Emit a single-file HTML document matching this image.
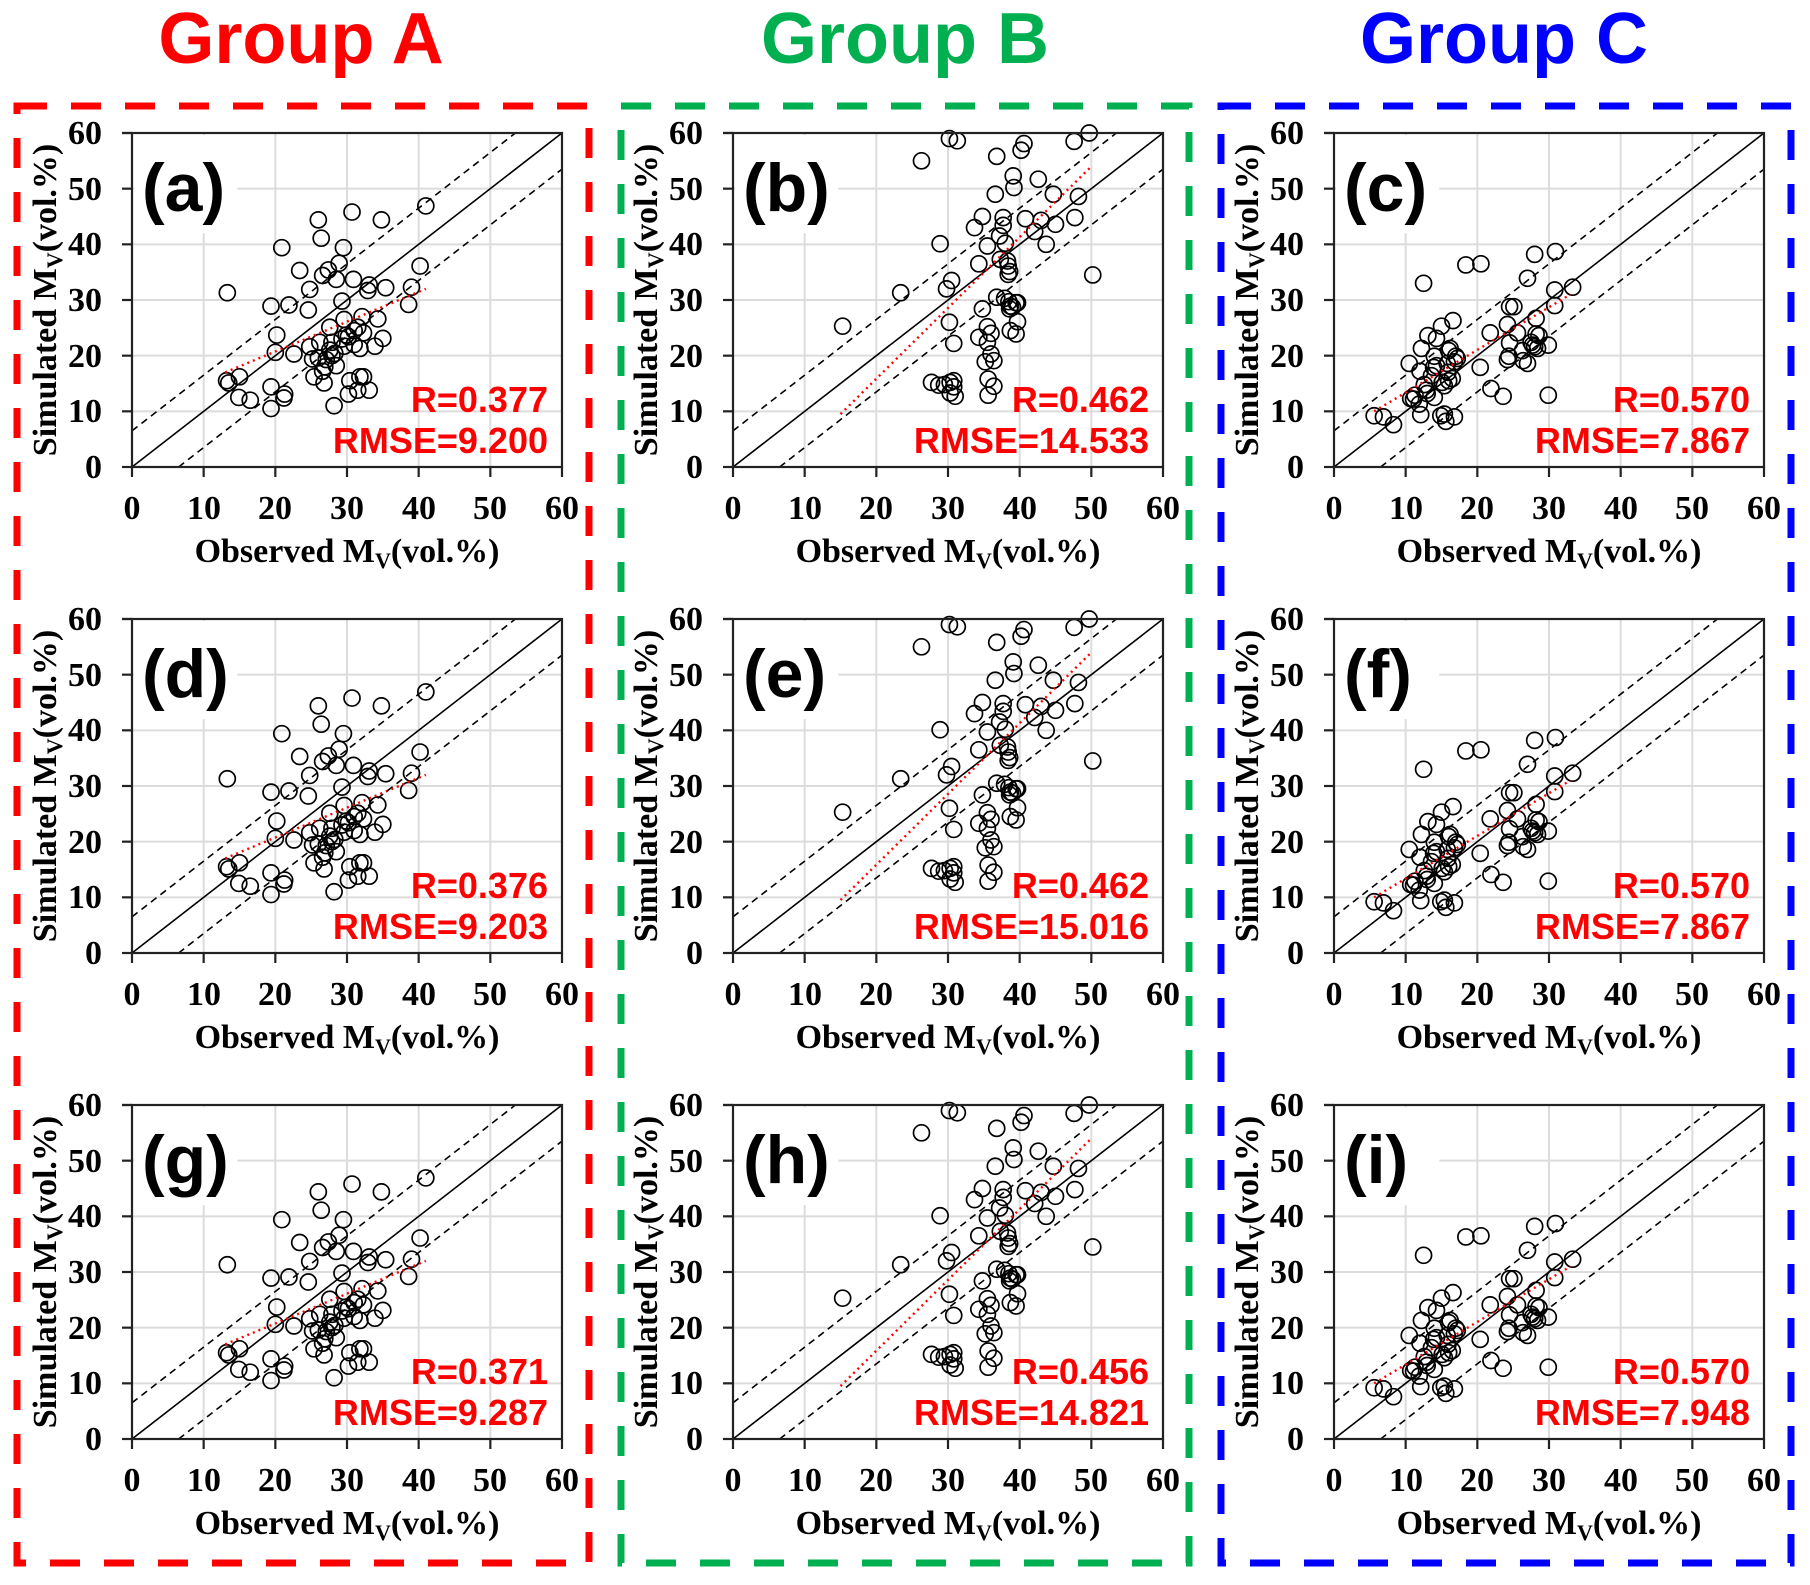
<!DOCTYPE html>
<html><head><meta charset="utf-8">
<style>
html,body{margin:0;padding:0;background:#fff;}
svg{display:block;}
.yt{font:bold 34px "Liberation Serif",serif;text-anchor:end;fill:#000;}
.xt{font:bold 34px "Liberation Serif",serif;text-anchor:middle;fill:#000;}
.at{font:bold 34px "Liberation Serif",serif;text-anchor:middle;fill:#000;}
.sub{font-size:22px;}
.lb{font:bold 68px "Liberation Sans",sans-serif;fill:#000;}
.rt{font:bold 36px "Liberation Sans",sans-serif;fill:#ff0000;text-anchor:end;}
.gt{font:bold 72px "Liberation Sans",sans-serif;text-anchor:middle;}
</style></head>
<body>
<svg id="root" width="1810" height="1585" viewBox="0 0 1810 1585" xmlns="http://www.w3.org/2000/svg">
<rect width="1810" height="1585" fill="#fff"/>
<text class="gt" x="301" y="63" fill="#ff0000">Group A</text>
<text class="gt" x="905" y="63" fill="#00b050">Group B</text>
<text class="gt" x="1504" y="63" fill="#0000ff">Group C</text>
<rect x="17" y="106" width="572" height="1457" fill="none" stroke="#ff0000" stroke-width="7" stroke-dasharray="30 24"/>
<rect x="621" y="106" width="568" height="1457" fill="none" stroke="#00b050" stroke-width="7" stroke-dasharray="30 24"/>
<rect x="1221" y="106" width="570" height="1457" fill="none" stroke="#0000ff" stroke-width="7" stroke-dasharray="30 24"/>

<g id="P0" transform="translate(132,133)"><g class="s"></g>
<text class="yt" x="-30" y="345">0</text><text class="yt" x="-30" y="289">10</text><text class="yt" x="-30" y="234">20</text><text class="yt" x="-30" y="178">30</text><text class="yt" x="-30" y="122">40</text><text class="yt" x="-30" y="67">50</text><text class="yt" x="-30" y="11">60</text>
<text class="xt" x="0" y="386">0</text><text class="xt" x="72" y="386">10</text><text class="xt" x="143" y="386">20</text><text class="xt" x="215" y="386">30</text><text class="xt" x="287" y="386">40</text><text class="xt" x="358" y="386">50</text><text class="xt" x="430" y="386">60</text>
<text class="at" x="215" y="429">Observed M<tspan class="sub" dy="6">V</tspan><tspan dy="-6">(vol.%)</tspan></text>
<text class="at" transform="translate(-76,167) rotate(-90)">Simulated M<tspan class="sub" dy="6">V</tspan><tspan dy="-6">(vol.%)</tspan></text>
<text class="lb" x="10" y="78">(a)</text>
<text class="rt" x="416" y="279">R=0.377</text><text class="rt" x="416" y="320">RMSE=9.200</text></g>

<g id="P1" transform="translate(733,133)"><g class="s"></g>
<text class="yt" x="-30" y="345">0</text><text class="yt" x="-30" y="289">10</text><text class="yt" x="-30" y="234">20</text><text class="yt" x="-30" y="178">30</text><text class="yt" x="-30" y="122">40</text><text class="yt" x="-30" y="67">50</text><text class="yt" x="-30" y="11">60</text>
<text class="xt" x="0" y="386">0</text><text class="xt" x="72" y="386">10</text><text class="xt" x="143" y="386">20</text><text class="xt" x="215" y="386">30</text><text class="xt" x="287" y="386">40</text><text class="xt" x="358" y="386">50</text><text class="xt" x="430" y="386">60</text>
<text class="at" x="215" y="429">Observed M<tspan class="sub" dy="6">V</tspan><tspan dy="-6">(vol.%)</tspan></text>
<text class="at" transform="translate(-76,167) rotate(-90)">Simulated M<tspan class="sub" dy="6">V</tspan><tspan dy="-6">(vol.%)</tspan></text>
<text class="lb" x="10" y="78">(b)</text>
<text class="rt" x="416" y="279">R=0.462</text><text class="rt" x="416" y="320">RMSE=14.533</text></g>

<g id="P2" transform="translate(1334,133)"><g class="s"></g>
<text class="yt" x="-30" y="345">0</text><text class="yt" x="-30" y="289">10</text><text class="yt" x="-30" y="234">20</text><text class="yt" x="-30" y="178">30</text><text class="yt" x="-30" y="122">40</text><text class="yt" x="-30" y="67">50</text><text class="yt" x="-30" y="11">60</text>
<text class="xt" x="0" y="386">0</text><text class="xt" x="72" y="386">10</text><text class="xt" x="143" y="386">20</text><text class="xt" x="215" y="386">30</text><text class="xt" x="287" y="386">40</text><text class="xt" x="358" y="386">50</text><text class="xt" x="430" y="386">60</text>
<text class="at" x="215" y="429">Observed M<tspan class="sub" dy="6">V</tspan><tspan dy="-6">(vol.%)</tspan></text>
<text class="at" transform="translate(-76,167) rotate(-90)">Simulated M<tspan class="sub" dy="6">V</tspan><tspan dy="-6">(vol.%)</tspan></text>
<text class="lb" x="10" y="78">(c)</text>
<text class="rt" x="416" y="279">R=0.570</text><text class="rt" x="416" y="320">RMSE=7.867</text></g>

<g id="P3" transform="translate(132,619)"><g class="s"></g>
<text class="yt" x="-30" y="345">0</text><text class="yt" x="-30" y="289">10</text><text class="yt" x="-30" y="234">20</text><text class="yt" x="-30" y="178">30</text><text class="yt" x="-30" y="122">40</text><text class="yt" x="-30" y="67">50</text><text class="yt" x="-30" y="11">60</text>
<text class="xt" x="0" y="386">0</text><text class="xt" x="72" y="386">10</text><text class="xt" x="143" y="386">20</text><text class="xt" x="215" y="386">30</text><text class="xt" x="287" y="386">40</text><text class="xt" x="358" y="386">50</text><text class="xt" x="430" y="386">60</text>
<text class="at" x="215" y="429">Observed M<tspan class="sub" dy="6">V</tspan><tspan dy="-6">(vol.%)</tspan></text>
<text class="at" transform="translate(-76,167) rotate(-90)">Simulated M<tspan class="sub" dy="6">V</tspan><tspan dy="-6">(vol.%)</tspan></text>
<text class="lb" x="10" y="78">(d)</text>
<text class="rt" x="416" y="279">R=0.376</text><text class="rt" x="416" y="320">RMSE=9.203</text></g>

<g id="P4" transform="translate(733,619)"><g class="s"></g>
<text class="yt" x="-30" y="345">0</text><text class="yt" x="-30" y="289">10</text><text class="yt" x="-30" y="234">20</text><text class="yt" x="-30" y="178">30</text><text class="yt" x="-30" y="122">40</text><text class="yt" x="-30" y="67">50</text><text class="yt" x="-30" y="11">60</text>
<text class="xt" x="0" y="386">0</text><text class="xt" x="72" y="386">10</text><text class="xt" x="143" y="386">20</text><text class="xt" x="215" y="386">30</text><text class="xt" x="287" y="386">40</text><text class="xt" x="358" y="386">50</text><text class="xt" x="430" y="386">60</text>
<text class="at" x="215" y="429">Observed M<tspan class="sub" dy="6">V</tspan><tspan dy="-6">(vol.%)</tspan></text>
<text class="at" transform="translate(-76,167) rotate(-90)">Simulated M<tspan class="sub" dy="6">V</tspan><tspan dy="-6">(vol.%)</tspan></text>
<text class="lb" x="10" y="78">(e)</text>
<text class="rt" x="416" y="279">R=0.462</text><text class="rt" x="416" y="320">RMSE=15.016</text></g>

<g id="P5" transform="translate(1334,619)"><g class="s"></g>
<text class="yt" x="-30" y="345">0</text><text class="yt" x="-30" y="289">10</text><text class="yt" x="-30" y="234">20</text><text class="yt" x="-30" y="178">30</text><text class="yt" x="-30" y="122">40</text><text class="yt" x="-30" y="67">50</text><text class="yt" x="-30" y="11">60</text>
<text class="xt" x="0" y="386">0</text><text class="xt" x="72" y="386">10</text><text class="xt" x="143" y="386">20</text><text class="xt" x="215" y="386">30</text><text class="xt" x="287" y="386">40</text><text class="xt" x="358" y="386">50</text><text class="xt" x="430" y="386">60</text>
<text class="at" x="215" y="429">Observed M<tspan class="sub" dy="6">V</tspan><tspan dy="-6">(vol.%)</tspan></text>
<text class="at" transform="translate(-76,167) rotate(-90)">Simulated M<tspan class="sub" dy="6">V</tspan><tspan dy="-6">(vol.%)</tspan></text>
<text class="lb" x="10" y="78">(f)</text>
<text class="rt" x="416" y="279">R=0.570</text><text class="rt" x="416" y="320">RMSE=7.867</text></g>

<g id="P6" transform="translate(132,1105)"><g class="s"></g>
<text class="yt" x="-30" y="345">0</text><text class="yt" x="-30" y="289">10</text><text class="yt" x="-30" y="234">20</text><text class="yt" x="-30" y="178">30</text><text class="yt" x="-30" y="122">40</text><text class="yt" x="-30" y="67">50</text><text class="yt" x="-30" y="11">60</text>
<text class="xt" x="0" y="386">0</text><text class="xt" x="72" y="386">10</text><text class="xt" x="143" y="386">20</text><text class="xt" x="215" y="386">30</text><text class="xt" x="287" y="386">40</text><text class="xt" x="358" y="386">50</text><text class="xt" x="430" y="386">60</text>
<text class="at" x="215" y="429">Observed M<tspan class="sub" dy="6">V</tspan><tspan dy="-6">(vol.%)</tspan></text>
<text class="at" transform="translate(-76,167) rotate(-90)">Simulated M<tspan class="sub" dy="6">V</tspan><tspan dy="-6">(vol.%)</tspan></text>
<text class="lb" x="10" y="78">(g)</text>
<text class="rt" x="416" y="279">R=0.371</text><text class="rt" x="416" y="320">RMSE=9.287</text></g>

<g id="P7" transform="translate(733,1105)"><g class="s"></g>
<text class="yt" x="-30" y="345">0</text><text class="yt" x="-30" y="289">10</text><text class="yt" x="-30" y="234">20</text><text class="yt" x="-30" y="178">30</text><text class="yt" x="-30" y="122">40</text><text class="yt" x="-30" y="67">50</text><text class="yt" x="-30" y="11">60</text>
<text class="xt" x="0" y="386">0</text><text class="xt" x="72" y="386">10</text><text class="xt" x="143" y="386">20</text><text class="xt" x="215" y="386">30</text><text class="xt" x="287" y="386">40</text><text class="xt" x="358" y="386">50</text><text class="xt" x="430" y="386">60</text>
<text class="at" x="215" y="429">Observed M<tspan class="sub" dy="6">V</tspan><tspan dy="-6">(vol.%)</tspan></text>
<text class="at" transform="translate(-76,167) rotate(-90)">Simulated M<tspan class="sub" dy="6">V</tspan><tspan dy="-6">(vol.%)</tspan></text>
<text class="lb" x="10" y="78">(h)</text>
<text class="rt" x="416" y="279">R=0.456</text><text class="rt" x="416" y="320">RMSE=14.821</text></g>

<g id="P8" transform="translate(1334,1105)"><g class="s"></g>
<text class="yt" x="-30" y="345">0</text><text class="yt" x="-30" y="289">10</text><text class="yt" x="-30" y="234">20</text><text class="yt" x="-30" y="178">30</text><text class="yt" x="-30" y="122">40</text><text class="yt" x="-30" y="67">50</text><text class="yt" x="-30" y="11">60</text>
<text class="xt" x="0" y="386">0</text><text class="xt" x="72" y="386">10</text><text class="xt" x="143" y="386">20</text><text class="xt" x="215" y="386">30</text><text class="xt" x="287" y="386">40</text><text class="xt" x="358" y="386">50</text><text class="xt" x="430" y="386">60</text>
<text class="at" x="215" y="429">Observed M<tspan class="sub" dy="6">V</tspan><tspan dy="-6">(vol.%)</tspan></text>
<text class="at" transform="translate(-76,167) rotate(-90)">Simulated M<tspan class="sub" dy="6">V</tspan><tspan dy="-6">(vol.%)</tspan></text>
<text class="lb" x="10" y="78">(i)</text>
<text class="rt" x="416" y="279">R=0.570</text><text class="rt" x="416" y="320">RMSE=7.948</text></g>
</svg>
<script>
(function(){
var NS="http://www.w3.org/2000/svg";
var A=[[13.3,31.3],[13.2,15.5],[13.5,15.1],[15,16.2],[14.9,12.5],[16.5,12],[19.4,28.9],[19.4,14.4],[19.4,10.5],[20.2,23.7],[20,20.6],[20.9,39.4],[21.2,12.4],[21.3,13.1],[21.9,29.1],[22.6,20.3],[23.4,35.3],[24.8,31.9],[24.6,28.2],[24.8,21.6],[25.4,16.2],[26,44.4],[26.4,41.1],[26.6,34.4],[26.2,22.4],[26,19.6],[26.6,17.2],[26.8,15.1],[27.4,35.4],[27.6,25.1],[27.9,22.4],[27.9,20],[27.6,21],[27.1,19.3],[28.5,18.2],[28.2,11],[28.5,33.7],[28.9,36.6],[29.3,29.8],[29.5,39.4],[29.6,26.5],[29.6,21.7],[29.9,23.7],[30.2,23.4],[30.7,45.8],[30.9,33.7],[30.2,13.1],[30.4,15.5],[31.5,25.1],[31.8,21.3],[31.8,16.2],[32.1,27],[32.3,16.2],[32.3,24.1],[32.9,31.7],[33.1,32.7],[33.1,13.8],[31.5,13.8],[33.9,21.7],[34.3,26.6],[34.8,44.4],[35,23.1],[35.4,32.2],[38.6,29.2],[39,32.3],[40.2,36.1],[41,46.9],[31,22],[29.3,23],[31,24.5],[26.9,18],[25.2,19.4],[28.3,20.4]];
var B=[[15.3,25.3],[23.4,31.3],[26.3,55],[27.7,15.2],[28.7,14.7],[29.5,14.8],[30.3,15.2],[30.8,14.4],[28.9,40.1],[30.2,59],[31.3,58.6],[29.8,32],[30.5,33.5],[30.2,26],[30.8,22.2],[31,12.7],[30.3,13.3],[30.8,15.5],[33.7,43],[34.8,45],[34.3,36.5],[35.5,39.7],[34.8,28.4],[34.3,23.3],[35.5,22.4],[36,24],[35.5,25.2],[35.2,18.9],[36,20.3],[35.6,15.8],[35.6,12.9],[36.4,14.5],[36.4,19.1],[36.8,55.8],[36.6,49],[37.2,41.5],[37.7,43.4],[37.7,44.8],[38,40.2],[37.3,37.3],[37.9,30.3],[36.8,30.5],[38.5,29.7],[38.6,28.4],[38.4,36.1],[38.6,35.1],[38.3,37],[38.4,34.6],[38.7,28.9],[39,28.7],[39.5,29.5],[39.7,26.1],[38.7,24.5],[39.5,23.9],[39.2,50.2],[39.1,52.3],[40.2,56.9],[40.6,58.1],[39.7,29.5],[40.8,44.6],[42.1,42.3],[43,44.3],[43.7,40],[42.6,51.7],[44.7,49],[45,43.6],[47.6,58.5],[47.7,44.8],[48.2,48.6],[49.7,60],[50.2,34.5]];
var C=[[5.6,9.2],[6.9,9],[8.3,7.6],[10.5,18.6],[10.7,12.3],[11.3,12.9],[11.1,12.2],[11.9,11.3],[12.1,9.4],[12.2,21.3],[12,17.2],[12.5,33],[13,13.2],[13.1,23.6],[12.9,13.8],[14,19.9],[14,12.5],[13.9,17.9],[14.3,18.2],[14.3,23.1],[15,25.3],[14.9,9.2],[15.1,15.2],[15.4,9.5],[15.6,8.2],[15.4,14.6],[15.8,18.6],[16,20.9],[16.2,21.3],[16.6,26.3],[16.5,15.9],[16.8,9],[16.8,18.9],[17,19.9],[17.2,19.5],[16,15.5],[18.4,36.3],[20.4,17.9],[20.5,36.5],[21.8,24.1],[21.9,14.1],[23.6,12.7],[24.2,25.6],[24.5,28.8],[25.1,28.8],[24.4,19.9],[24.5,22.3],[24.2,19.3],[25.6,24.1],[26.3,20.9],[26.4,19.1],[27,33.9],[27,18.6],[27.5,22.4],[27.7,21.9],[28,21.6],[28,38.2],[28.2,26.7],[28.2,23.9],[28.6,23.6],[28.4,21.3],[29.9,21.9],[29.9,12.9],[30.8,31.8],[30.9,38.7],[30.8,29],[33.3,32.3],[12.6,14.8],[13.6,16.4],[15.9,17]];
var D=[A,B,C,A,B,C,A,B,C];
var REG=[[13,17,41,32],[15,9.5,50,54],[5.6,10,33,31]];
var W=430,H=334,sx=W/60,sy=H/60;
function X(v){return v*sx;}function Y(v){return H-v*sy;}
function el(p,t,a){var e=document.createElementNS(NS,t);for(var k in a)e.setAttribute(k,a[k]);p.appendChild(e);return e;}
for(var i=0;i<9;i++){
 var g=document.querySelector("#P"+i+" .s");
 for(var v=10;v<60;v+=10){
  el(g,"line",{x1:X(v),y1:0,x2:X(v),y2:H,stroke:"#dcdcdc","stroke-width":2});
  el(g,"line",{x1:0,y1:Y(v),x2:W,y2:Y(v),stroke:"#dcdcdc","stroke-width":2});
 }
 el(g,"rect",{x:2,y:2,width:X(14.7)-2,height:Y(42)-2,fill:"#fff"});
 el(g,"line",{x1:0,y1:H,x2:W,y2:0,stroke:"#000","stroke-width":1.6});
 var o=6.5;
 el(g,"line",{x1:0,y1:Y(o),x2:X(60-o),y2:0,stroke:"#000","stroke-width":1.6,"stroke-dasharray":"7 5"});
 el(g,"line",{x1:X(o),y1:H,x2:W,y2:Y(60-o),stroke:"#000","stroke-width":1.6,"stroke-dasharray":"7 5"});
 var d=D[i];
 for(var j=0;j<d.length;j++)el(g,"circle",{cx:X(d[j][0]),cy:Y(d[j][1]),r:8,fill:"none",stroke:"#000","stroke-width":1.7});
 var r=REG[i%3];
 el(g,"line",{x1:X(r[0]),y1:Y(r[1]),x2:X(r[2]),y2:Y(r[3]),stroke:"#ff0000","stroke-width":2.4,"stroke-dasharray":"2 4"});
 el(g,"rect",{x:0,y:0,width:W,height:H,fill:"none",stroke:"#222","stroke-width":2.2});
 el(g,"line",{x1:-10,y1:0,x2:0,y2:0,stroke:"#222","stroke-width":2.2});
 for(var v=0;v<=60;v+=10){
  el(g,"line",{x1:-10,y1:Y(v),x2:0,y2:Y(v),stroke:"#222","stroke-width":2.2});
  el(g,"line",{x1:X(v),y1:H,x2:X(v),y2:H+10,stroke:"#222","stroke-width":2.2});
 }
}
})();
</script>
</body></html>
